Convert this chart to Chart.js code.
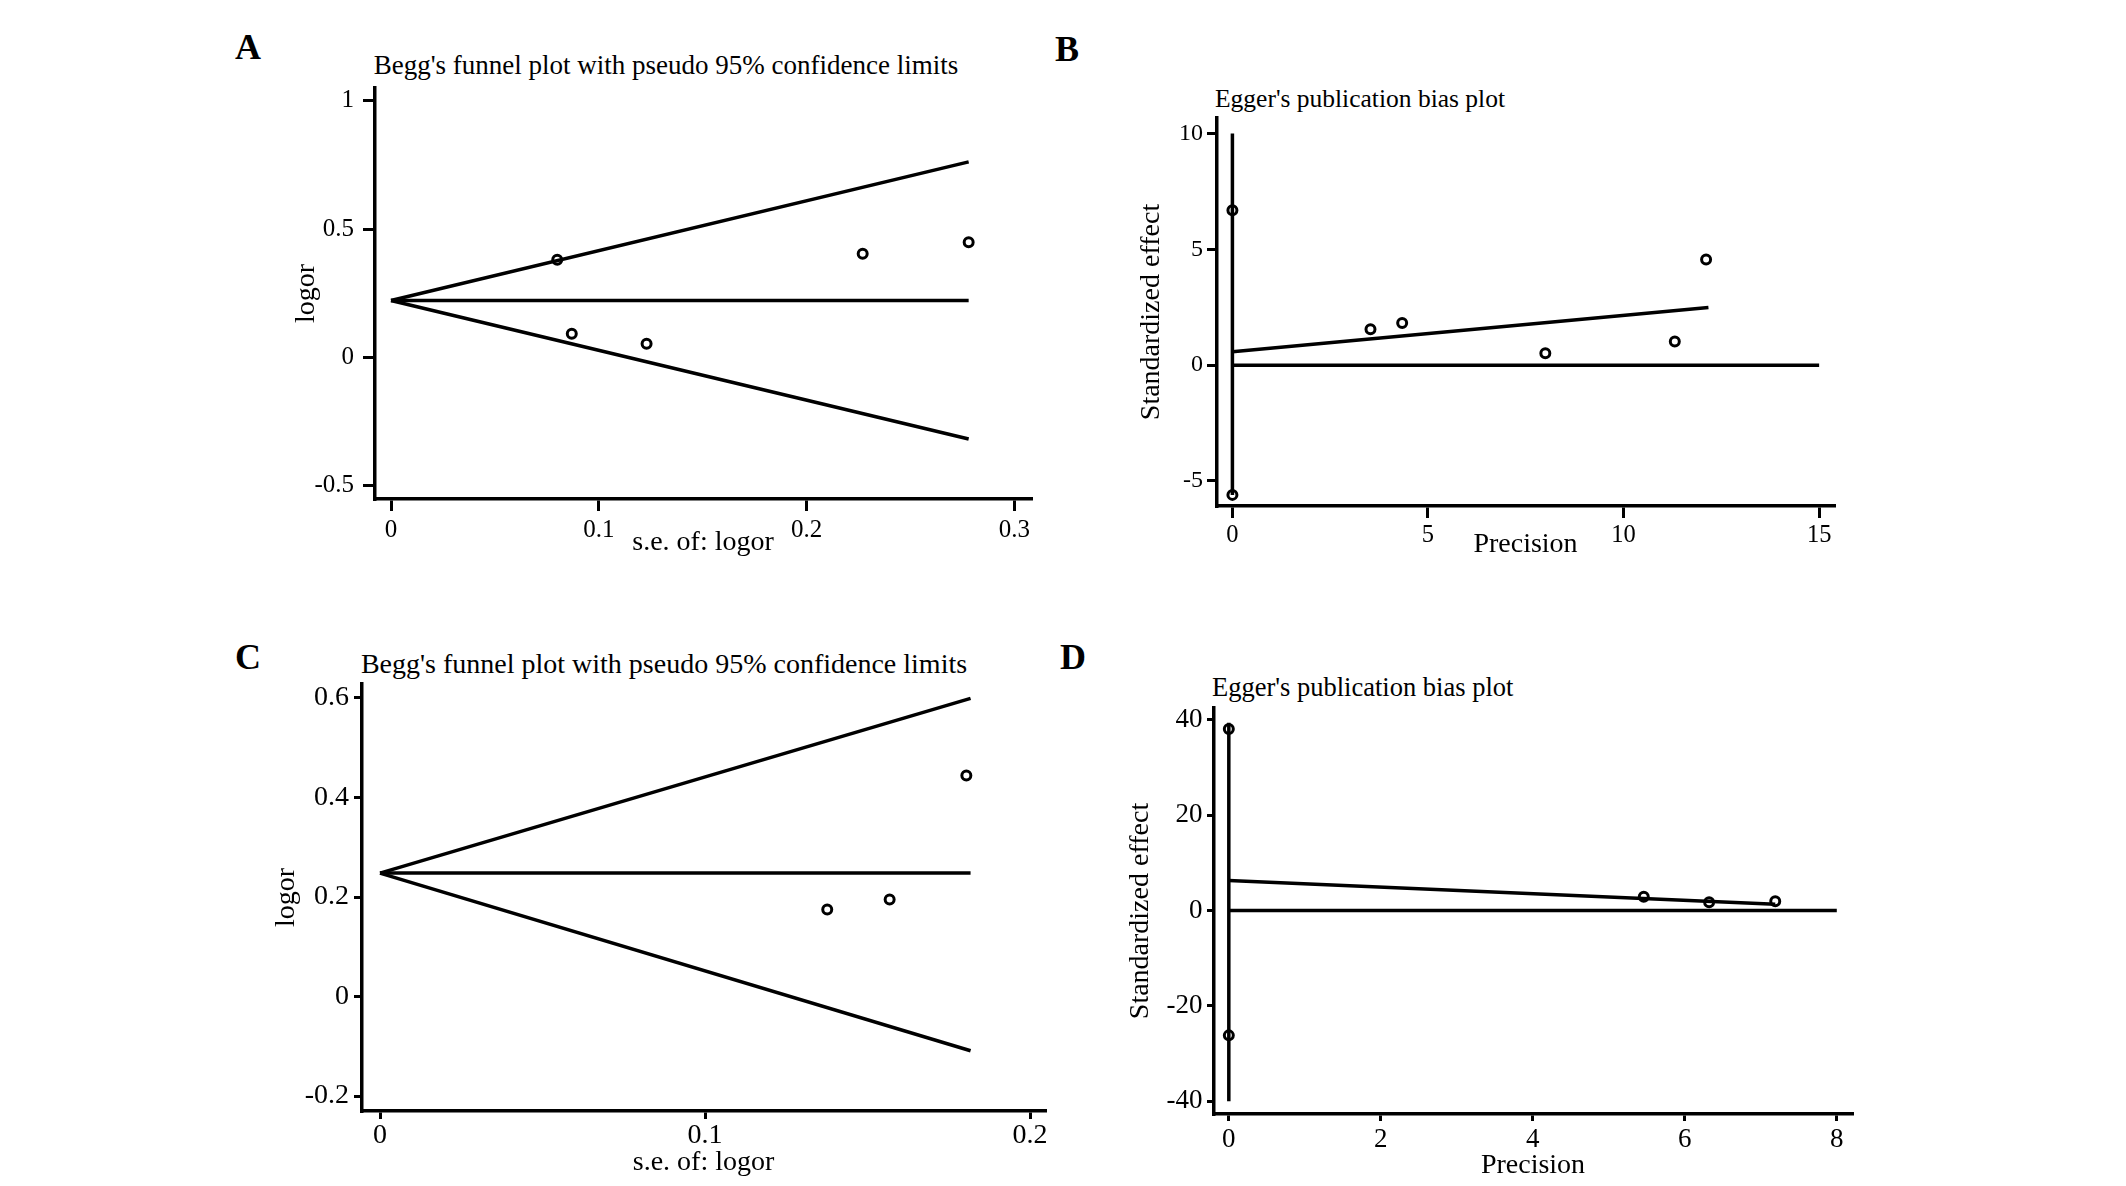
<!DOCTYPE html>
<html>
<head>
<meta charset="utf-8">
<script src="https://cdn.jsdelivr.net/npm/chart.js@4.4.1/dist/chart.umd.min.js"></script>
<style>
    html, body { margin: 0; padding: 0; background: #fff; }
    #page { position: relative; width: 2126px; height: 1186px; overflow: hidden; background: #fff;
            font-family: 'Liberation Serif', 'Times New Roman', serif; color: #000; }
    #page canvas { position: absolute; }
    .lbl { position: absolute; transform: translate(-50%, -50%); line-height: 1; white-space: nowrap; }
    .lbl.left { transform: translate(0, -50%); }
    .letter { font-weight: bold; font-size: 36px; }
</style>
</head>
<body>
<div id="page">
    <div class="lbl letter" style="left:248px;top:47px">A</div>
    <div class="lbl letter" style="left:1067px;top:49px">B</div>
    <div class="lbl letter" style="left:248px;top:657px">C</div>
    <div class="lbl letter" style="left:1073px;top:657px">D</div>
    <div class="lbl" style="left:666px;top:65px;font-size:27px">Begg's funnel plot with pseudo 95% confidence limits</div>
    <div class="lbl left" style="left:1215px;top:99px;font-size:25.5px">Egger's publication bias plot</div>
    <div class="lbl" style="left:664px;top:664px;font-size:28px">Begg's funnel plot with pseudo 95% confidence limits</div>
    <div class="lbl left" style="left:1212px;top:687px;font-size:26.5px">Egger's publication bias plot</div>
</div>
<script>
// ---- Painel A: Begg ----
const aSe = [0.080, 0.087, 0.123, 0.227, 0.278];
const aLogor = [0.381, 0.092, 0.053, 0.404, 0.449];
const aLimitSe = [0, 0.278];
const aUpper = [0.222, 0.762];
const aMiddle = [0.222, 0.222];
const aLower = [0.222, -0.318];
const aXTicks = [0, 0.1, 0.2, 0.3];
const aYTicks = [-0.5, 0, 0.5, 1];

// ---- Painel B: Egger ----
const bPrecision = [0, 0, 3.53, 4.34, 8.00, 11.31, 12.11];
const bEffect = [6.69, -5.60, 1.55, 1.82, 0.51, 1.02, 4.56];
const bCiX = [0, 0];
const bCiY = [-5.6, 10];
const bFitX = [0, 12.17];
const bFitY = [0.575, 2.49];
const bZeroX = [0, 15];
const bZeroY = [0, 0];
const bXTicks = [0, 5, 10, 15];
const bYTicks = [-5, 0, 5, 10];

// ---- Painel C: Begg ----
const cSe = [0.1376, 0.1568, 0.1804];
const cLogor = [0.175, 0.195, 0.444];
const cLimitSe = [0, 0.1817];
const cUpper = [0.248, 0.599];
const cMiddle = [0.248, 0.248];
const cLower = [0.248, -0.109];
const cXTicks = [0, 0.1, 0.2];
const cYTicks = [-0.2, 0, 0.2, 0.4, 0.6];

// ---- Painel D: Egger ----
const dPrecision = [0, 0, 5.46, 6.32, 7.19];
const dEffect = [38.1, -26.2, 2.90, 1.72, 1.96];
const dCiX = [0, 0];
const dCiY = [-40, 39.4];
const dFitX = [0, 7.19];
const dFitY = [6.29, 1.33];
const dZeroX = [0, 8];
const dZeroY = [0, 0];
const dXTicks = [0, 2, 4, 6, 8];
const dYTicks = [-40, -20, 0, 20, 40];

Chart.defaults.font.family = "'Liberation Serif', 'Times New Roman', serif";
Chart.defaults.color = '#000';

function pts(xs, ys) {
    return xs.map((x, i) => ({ x: x, y: ys[i] }));
}

function linha(xs, ys) {
    return { data: pts(xs, ys), showLine: true, borderColor: '#000', borderWidth: 3.5,
             pointRadius: 0, fill: false, clip: false };
}

function pontos(xs, ys) {
    return { data: pts(xs, ys), showLine: false, pointRadius: 4.5, pointBorderWidth: 3,
             pointBackgroundColor: '#fff', pointBorderColor: '#000', clip: false };
}

// estilo: tamanho da fonte dos ticks, comprimento do tick e espaço até o rótulo
function eixo(pos, cfg, tamanho) {
    return {
        type: 'linear', position: pos, min: cfg.min, max: cfg.max, bounds: 'data',
        afterBuildTicks: s => { s.ticks = cfg.ticks.map(v => ({ value: v })); },
        afterFit: s => { if (pos === 'left') s.width = tamanho; else s.height = tamanho; },
        ticks: { color: '#000', font: { size: cfg.font }, padding: cfg.pad,
                 autoSkip: false, maxRotation: 0, callback: v => String(v) },
        grid: { drawOnChartArea: false, drawTicks: true, tickLength: cfg.tl, color: '#000', lineWidth: 3 },
        border: { display: true, color: '#000', width: 3.5 },
        title: { display: true, text: cfg.title, color: '#000', font: { size: 28 }, padding: 0 }
    };
}

// geo: posição da área do gráfico na página e centro dos títulos dos eixos
function criarPainel(geo, datasets, x, y) {
    const meia = 28 * 1.2 / 2;
    const folga = 30;
    const yW = Math.round(geo.left - geo.yTitleX + meia);
    const xH = Math.round(geo.xTitleY - geo.bottom + meia);
    const w = (geo.right - geo.left) + yW + folga;
    const h = folga + (geo.bottom - geo.top) + xH;

    const cv = document.createElement('canvas');
    cv.width = w;
    cv.height = h;
    cv.style.width = w + 'px';
    cv.style.height = h + 'px';
    cv.style.left = (geo.left - yW) + 'px';
    cv.style.top = (geo.top - folga) + 'px';
    document.getElementById('page').appendChild(cv);

    new Chart(cv, {
        type: 'scatter',
        data: { datasets: datasets },
        options: {
            responsive: false,
            animation: false,
            events: [],
            layout: { padding: { top: folga, right: folga, left: 0, bottom: 0 } },
            plugins: { legend: { display: false }, tooltip: { enabled: false } },
            scales: {
                x: eixo('bottom', x, xH),
                y: eixo('left', y, yW)
            }
        }
    });
}

criarPainel(
    { left: 375, top: 88, right: 1031, bottom: 499, yTitleX: 307, xTitleY: 542 },
    [linha(aLimitSe, aUpper), linha(aLimitSe, aMiddle), linha(aLimitSe, aLower), pontos(aSe, aLogor)],
    { min: -0.0077, max: 0.308, ticks: aXTicks, title: 's.e. of: logor', font: 25, tl: 12, pad: 4 },
    { min: -0.552, max: 1.05, ticks: aYTicks, title: 'logor', font: 25, tl: 12, pad: 9 }
);

criarPainel(
    { left: 1217, top: 118, right: 1834, bottom: 506, yTitleX: 1152, xTitleY: 544 },
    [linha(bCiX, bCiY), linha(bFitX, bFitY), linha(bZeroX, bZeroY), pontos(bPrecision, bEffect)],
    { min: -0.394, max: 15.38, ticks: bXTicks, title: 'Precision', font: 24.5, tl: 12, pad: 3 },
    { min: -6.08, max: 10.67, ticks: bYTicks, title: 'Standardized effect', font: 24, tl: 10, pad: 4 }
);

criarPainel(
    { left: 362, top: 684, right: 1045, bottom: 1111, yTitleX: 287, xTitleY: 1162 },
    [linha(cLimitSe, cUpper), linha(cLimitSe, cMiddle), linha(cLimitSe, cLower), pontos(cSe, cLogor)],
    { min: -0.00554, max: 0.2046, ticks: cXTicks, title: 's.e. of: logor', font: 28, tl: 8, pad: 0 },
    { min: -0.230, max: 0.628, ticks: cYTicks, title: 'logor', font: 28, tl: 8, pad: 5 }
);

criarPainel(
    { left: 1214, top: 708, right: 1852, bottom: 1114, yTitleX: 1141, xTitleY: 1165 },
    [linha(dCiX, dCiY), linha(dFitX, dFitY), linha(dZeroX, dZeroY), pontos(dPrecision, dEffect)],
    { min: -0.195, max: 8.20, ticks: dXTicks, title: 'Precision', font: 27, tl: 7, pad: 3 },
    { min: -42.7, max: 42.5, ticks: dYTicks, title: 'Standardized effect', font: 27, tl: 7, pad: 4.5 }
);
</script>
</body>
</html>
